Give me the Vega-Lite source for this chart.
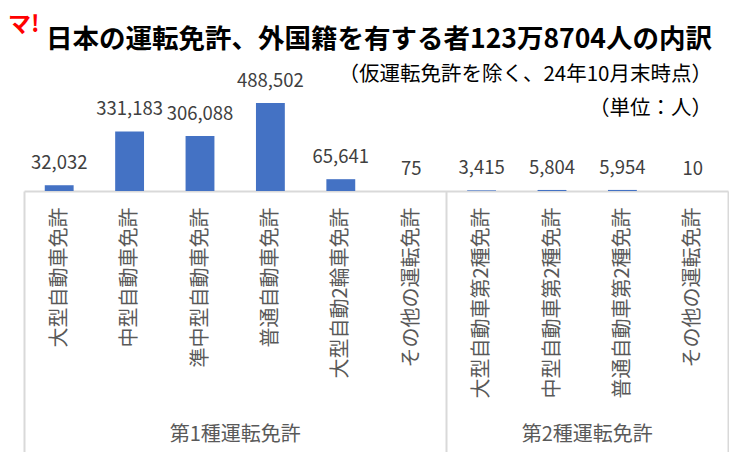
{
  "$schema": "https://vega.github.io/schema/vega-lite/v6.json",
  "background": "white",
  "padding": {"left": 8, "top": 14, "right": 0, "bottom": 0},
  "autosize": {"type": "pad"},
  "spacing": 0,
  "title": {"text": "マ!", "anchor": "start", "frame": "group", "fontSize": 23, "fontWeight": "bold", "color": "#ff0000", "font": "Noto Sans CJK JP", "dx": -16, "offset": -10},
  "config": {"view": {"stroke": null}, "font": "Noto Sans CJK JP"},
  "datasets": {
    "licenses": [
      {"group": "第1種運転免許", "key": "第1種|大型自動車免許", "count": 32032},
      {"group": "第1種運転免許", "key": "第1種|中型自動車免許", "count": 331183},
      {"group": "第1種運転免許", "key": "第1種|準中型自動車免許", "count": 306088},
      {"group": "第1種運転免許", "key": "第1種|普通自動車免許", "count": 488502},
      {"group": "第1種運転免許", "key": "第1種|大型自動2輪車免許", "count": 65641},
      {"group": "第1種運転免許", "key": "第1種|その他の運転免許", "count": 75},
      {"group": "第2種運転免許", "key": "第2種|大型自動車第2種免許", "count": 3415},
      {"group": "第2種運転免許", "key": "第2種|中型自動車第2種免許", "count": 5804},
      {"group": "第2種運転免許", "key": "第2種|普通自動車第2種免許", "count": 5954},
      {"group": "第2種運転免許", "key": "第2種|その他の運転免許", "count": 10}
    ]
  },
  "vconcat": [
    {
      "width": 704,
      "height": 90,
      "title": {
        "text": "日本の運転免許、外国籍を有する者123万8704人の内訳",
        "subtitle": ["（仮運転免許を除く、24年10月末時点）", "（単位：人）"],
        "anchor": "end",
        "frame": "group",
        "dx": -16,
        "offset": -47,
        "font": "Noto Sans CJK JP",
        "fontSize": 26.5,
        "fontWeight": "bold",
        "color": "#000000",
        "subtitleFont": "Noto Sans CJK JP",
        "subtitleFontSize": 20.5,
        "subtitleColor": "#000000",
        "subtitleLineHeight": 34,
        "subtitlePadding": 11
      },
      "data": {"name": "licenses"},
      "encoding": {
        "x": {
          "field": "key",
          "type": "nominal",
          "sort": null,
          "scale": {
            "domain": ["第1種|大型自動車免許", "第1種|中型自動車免許", "第1種|準中型自動車免許", "第1種|普通自動車免許", "第1種|大型自動2輪車免許", "第1種|その他の運転免許", "第2種|大型自動車第2種免許", "第2種|中型自動車第2種免許", "第2種|普通自動車第2種免許", "第2種|その他の運転免許"],
            "paddingInner": 0,
            "paddingOuter": 0
          },
          "axis": {
            "title": null,
            "labelAngle": -90,
            "labelExpr": "split(datum.label, '|')[1]",
            "labelFont": "Noto Sans CJK JP",
            "labelFontSize": 20,
            "labelColor": "#595959",
            "labelPadding": -247,
            "labelLimit": 400,
            "labelOverlap": false,
            "labelBound": false,
            "tickBand": "extent",
            "tickSize": 263,
            "tickWidth": 2,
            "tickColor": {"condition": {"test": "datum.extra || datum.value === '第1種|その他の運転免許' || datum.value === '第2種|その他の運転免許'", "value": "#d9d9d9"}, "value": "transparent"},
            "domainColor": "#d9d9d9",
            "domainWidth": 2,
            "grid": false
          }
        }
      },
      "layer": [
        {
          "mark": {"type": "bar", "color": "#4472C4", "width": {"band": 0.41}},
          "encoding": {
            "y": {"field": "count", "type": "quantitative", "scale": {"domain": [0, 500000]}, "axis": null}
          }
        },
        {
          "mark": {"type": "text", "baseline": "middle", "dy": -22, "fontSize": 18.5, "color": "#404040", "font": "Noto Sans CJK JP"},
          "encoding": {
            "y": {"field": "count", "type": "quantitative"},
            "text": {"field": "count", "type": "quantitative", "format": ","}
          }
        },
        {
          "transform": [{"filter": "datum.key === '第1種|普通自動車免許' || datum.key === '第2種|普通自動車第2種免許'"}],
          "mark": {"type": "text", "baseline": "middle", "dy": 244, "fontSize": 20, "color": "#595959", "font": "Noto Sans CJK JP"},
          "encoding": {
            "x": {"field": "key", "type": "nominal", "sort": null, "bandPosition": 0},
            "y": {"datum": 0, "type": "quantitative"},
            "text": {"field": "group", "type": "nominal"}
          }
        }
      ]
    }
  ]
}
